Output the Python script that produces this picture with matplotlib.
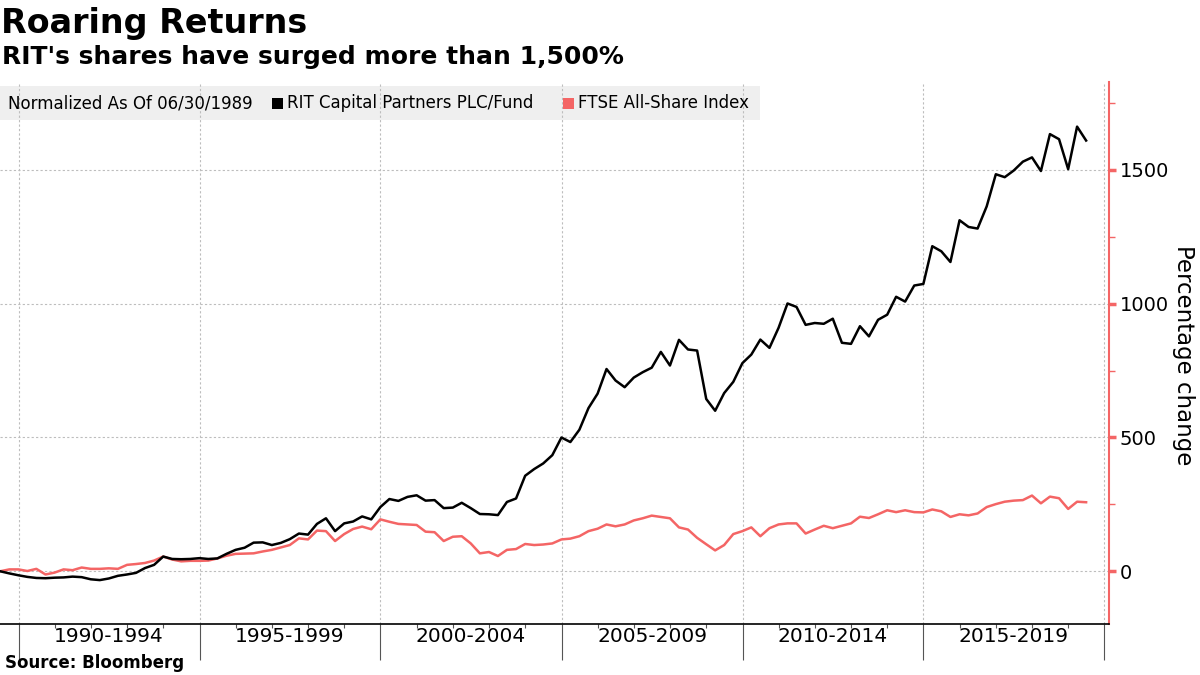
import numpy as np
import pandas as pd
import matplotlib
matplotlib.use("Agg")
import matplotlib.pyplot as plt
import matplotlib.dates as mdates
import matplotlib.transforms as mtransforms
from matplotlib.patches import Rectangle

# quarterly, normalized as of 06/30/1989 (percentage change)
dates = pd.date_range("1989-06-30", periods=121, freq="QE")

rit = [
    0, -8, -15, -21, -25, -26, -24, -23, -20, -22, -30, -33, -27, -17, -12, -6,
    12, 24, 55, 46, 45, 46, 49, 46, 48, 65, 80, 88, 107, 108, 98, 106,
    120, 141, 137, 177, 198, 150, 179, 186, 205, 194, 240, 270, 263, 278, 284, 264,
    266, 236, 238, 256, 236, 214, 213, 210, 259, 272, 357, 382, 403, 434, 500, 483,
    529, 610, 664, 756, 713, 688, 724, 744, 761, 820, 769, 865, 829, 825, 644, 600,
    666, 708, 778, 810, 866, 835, 910, 1001, 988, 921, 928, 925, 944, 854, 850, 916,
    878, 940, 959, 1026, 1008, 1068, 1074, 1215, 1196, 1156, 1312, 1287, 1281, 1364, 1484, 1473,
    1498, 1531, 1547, 1496, 1634, 1615, 1503, 1662, 1610,
]

ftse = [
    0, 7, 7, 1, 9, -12, -5, 7, 4, 14, 9, 9, 11, 9, 24, 27,
    31, 40, 55, 44, 37, 39, 39, 40, 48, 58, 65, 66, 67, 74, 80, 89,
    98, 123, 119, 152, 150, 113, 139, 158, 167, 157, 194, 185, 177, 175, 173, 148,
    146, 113, 129, 131, 104, 67, 72, 57, 80, 83, 102, 98, 100, 104, 119, 122,
    131, 150, 159, 175, 168, 175, 190, 198, 208, 203, 198, 164, 156, 125, 101, 78,
    98, 139, 150, 164, 131, 161, 175, 179, 179, 141, 156, 170, 161, 170, 179, 204,
    199, 213, 228, 221, 228, 221, 220, 231, 224, 203, 213, 209, 216, 240, 251, 260,
    264, 266, 283, 254, 279, 273, 233, 260, 258,
]

period_labels = ["1990-1994", "1995-1999", "2000-2004", "2005-2009", "2010-2014", "2015-2019"]
period_starts = [1990, 1995, 2000, 2005, 2010, 2015]

RED = "#f46565"
GRID = "#bdbdbd"

fig = plt.figure(figsize=(12, 6.75), dpi=100)
ax = fig.add_axes([0.0, 0.0756, 0.924, 0.8034])

ax.plot(dates, ftse, color=RED, lw=1.8, zorder=3)
ax.plot(dates, rit, color="black", lw=1.8, zorder=4)

ax.set_xlim(pd.Timestamp("1989-06-28"), pd.Timestamp("2020-02-14"))
ax.set_ylim(-197, 1830)

# axes styling
for s in ["top", "left"]:
    ax.spines[s].set_visible(False)
ax.spines["right"].set_color(RED)
ax.spines["right"].set_linewidth(1.5)
ax.spines["bottom"].set_linewidth(1.2)

ax.yaxis.tick_right()
ax.set_yticks([0, 500, 1000, 1500])
ax.set_yticks([250, 750, 1250, 1750], minor=True)
ax.tick_params(axis="y", which="major", colors=RED, length=5, width=2.5, pad=3,
               labelcolor="black", labelsize=14)
ax.tick_params(axis="y", which="minor", colors=RED, length=4, width=1)

ax.xaxis.set_major_locator(mdates.YearLocator(5))
ax.xaxis.set_minor_locator(mdates.YearLocator(1))
ax.xaxis.set_major_formatter(plt.NullFormatter())
ax.tick_params(axis="x", which="major", direction="out", length=26, width=0.8, color="#555555")
ax.tick_params(axis="x", which="minor", direction="out", length=3, width=0.8, color="#555555")

ax.grid(True, which="major", color=GRID, linestyle=(0, (2, 2)), linewidth=0.8)
ax.set_axisbelow(True)

# period labels centred between the 5-year ticks
tr = mtransforms.blended_transform_factory(ax.transData, fig.transFigure)
for lab, y0 in zip(period_labels, period_starts):
    a = pd.Timestamp(f"{y0}-01-01")
    b = pd.Timestamp(f"{y0 + 5}-01-01")
    mid = mdates.date2num(a + (b - a) / 2)
    ax.text(mid, 1 - 637 / 675, lab, transform=tr, ha="center", va="center", fontsize=14.5)

fig.text(1183 / 1200, 1 - 355 / 675, "Percentage change", rotation=270,
         ha="center", va="center", fontsize=16.5)

# legend strip
ax.add_patch(Rectangle((0, 1 - 120 / 675), 760 / 1200, 34 / 675, transform=fig.transFigure,
                       facecolor="#efefef", edgecolor="none", clip_on=False, zorder=0.3))
ly = 1 - 103 / 675
fig.text(8 / 1200, ly, "Normalized As Of 06/30/1989", ha="left", va="center", fontsize=12)
fig.patches.append(Rectangle((272 / 1200, 1 - 109 / 675), 11 / 1200, 11 / 675,
                             transform=fig.transFigure, facecolor="black", figure=fig))
fig.text(287 / 1200, ly, "RIT Capital Partners PLC/Fund", ha="left", va="center", fontsize=12)
fig.patches.append(Rectangle((563 / 1200, 1 - 109 / 675), 11 / 1200, 11 / 675,
                             transform=fig.transFigure, facecolor=RED, figure=fig))
fig.text(578 / 1200, ly, "FTSE All-Share Index", ha="left", va="center", fontsize=12)

# titles
fig.text(1 / 1200, 1 - 7 / 675, "Roaring Returns", ha="left", va="top",
         fontsize=24, fontweight="bold")
fig.text(2 / 1200, 1 - 45 / 675, "RIT's shares have surged more than 1,500%", ha="left",
         va="top", fontsize=18, fontweight="bold")
fig.text(5 / 1200, 1 - 663 / 675, "Source: Bloomberg", ha="left", va="center",
         fontsize=12, fontweight="bold")

fig.savefig("out.png", dpi=100)
